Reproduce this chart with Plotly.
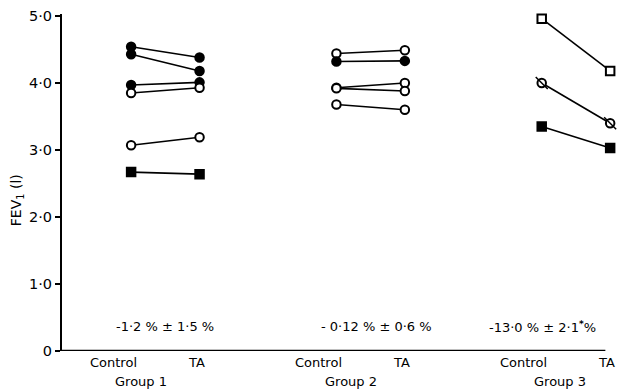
import plotly.graph_objects as go

# ---- data ----
groups = ["Group 1", "Group 2", "Group 3"]
conditions = ["Control", "TA"]

g1_control = [4.54, 4.43, 3.97, 3.85, 3.07, 2.67]
g1_ta      = [4.38, 4.18, 4.01, 3.93, 3.19, 2.64]
g1_marks   = ["filled circle", "filled circle", "filled circle", "open circle", "open circle", "filled square"]

g2_control = [4.44, 4.32, 3.93, 3.92, 3.68]
g2_ta      = [4.49, 4.33, 4.00, 3.88, 3.60]
g2_marks   = ["open circle", "filled circle", "open circle", "open circle", "open circle"]

g3_control = [4.96, 4.00, 3.35]
g3_ta      = [4.18, 3.40, 3.03]
g3_marks   = ["open square", "slashed circle", "filled square"]

change_labels = ["-1·2 % ± 1·5 %", "- 0·12 % ± 0·6 %", "-13·0 % ± 2·1<sup><b>*</b></sup>%"]

y_ticks = [0, 1, 2, 3, 4, 5]
y_tick_labels = ["0", "1·0", "2·0", "3·0", "4·0", "5·0"]

# ---- styling ----
FONT = "DejaVu Sans"
SYMBOLS = {
    "filled circle": ("circle", "black"),
    "open circle": ("circle", "white"),
    "filled square": ("square", "black"),
    "open square": ("square", "white"),
    "slashed circle": ("circle", "white"),
}

W, H = 617, 392
ML, MR, MT, MB = 62, 0, 14, 41
X_RANGE = [-1.01, 7.1]
X_AXIS_END = 6.93

fig = go.Figure()
all_groups = [(g1_control, g1_ta, g1_marks), (g2_control, g2_ta, g2_marks), (g3_control, g3_ta, g3_marks)]
for gi, (ctrl, ta, marks) in enumerate(all_groups):
    x0 = 3 * gi
    for c, t, m in zip(ctrl, ta, marks):
        sym, fill = SYMBOLS[m]
        fig.add_trace(go.Scatter(
            x=[x0, x0 + 1], y=[c, t], mode="lines+markers",
            line=dict(color="black", width=1.6),
            marker=dict(symbol=sym, size=8.5, color=fill, line=dict(color="black", width=2)),
            showlegend=False, cliponaxis=False, hoverinfo="skip"))
        if m == "slashed circle":
            fig.add_trace(go.Scatter(
                x=[x0, x0 + 1], y=[c, t], mode="markers",
                marker=dict(symbol="line-nw", size=12, line=dict(color="black", width=1.5)),
                showlegend=False, cliponaxis=False, hoverinfo="skip"))

TXT = dict(family=FONT, color="black", size=13)
annotations = []
for gi, g in enumerate(groups):
    x0 = 3 * gi
    annotations.append(dict(x=x0 - 0.26, y=0, yref="y", xref="x", yshift=-11, text=conditions[0],
                            showarrow=False, yanchor="middle", font=TXT))
    annotations.append(dict(x=x0 + 0.95, y=0, yref="y", xref="x", yshift=-11, text=conditions[1],
                            showarrow=False, yanchor="middle", font=TXT))
    annotations.append(dict(x=x0 + 0.15 + 0.06 * gi, y=0, yref="y", xref="x", yshift=-30, text=g,
                            showarrow=False, yanchor="middle", font=TXT))
    if gi < 2:
        annotations.append(dict(x=x0 + 0.5 + 0.08 * gi, y=0.36, xref="x", yref="y", text=change_labels[gi],
                                showarrow=False, yanchor="middle", font=TXT))
    else:
        annotations.append(dict(x=x0 - 0.8, y=0.36, xref="x", yref="y", text=change_labels[gi],
                                showarrow=False, xanchor="left", yanchor="middle", font=TXT))
plot_w = W - ML - MR
annotations.append(dict(x=(17 - ML) / plot_w, xref="paper", y=2.25, yref="y",
                        text="FEV<sub>1</sub> (l)", textangle=-90,
                        showarrow=False, xanchor="center", yanchor="middle",
                        font=dict(family=FONT, color="black", size=14)))

fig.update_layout(
    width=W, height=H,
    margin=dict(l=ML, r=MR, t=MT, b=MB),
    paper_bgcolor="white", plot_bgcolor="white",
    font=dict(family=FONT, color="black", size=13),
    annotations=annotations,
    hovermode=False,
    shapes=[dict(type="line", xref="x", yref="y", x0=X_RANGE[0], x1=X_AXIS_END, y0=0, y1=0,
                 line=dict(color="black", width=2.5))],
    xaxis=dict(range=X_RANGE, showgrid=False, zeroline=False, showticklabels=False, automargin=False,
               ticks="", showline=False),
    yaxis=dict(range=[0, 5.03], tickvals=y_ticks, ticktext=y_tick_labels, ticks="outside", automargin=False,
               ticklen=5, tickwidth=2, tickcolor="black", showgrid=False, zeroline=False,
               showline=True, linecolor="black", linewidth=2,
               tickfont=dict(size=14.5, family=FONT)),
)

fig.write_html("out.html", config={"displayModeBar": False},
               post_script="document.body.style.margin='0px';")
